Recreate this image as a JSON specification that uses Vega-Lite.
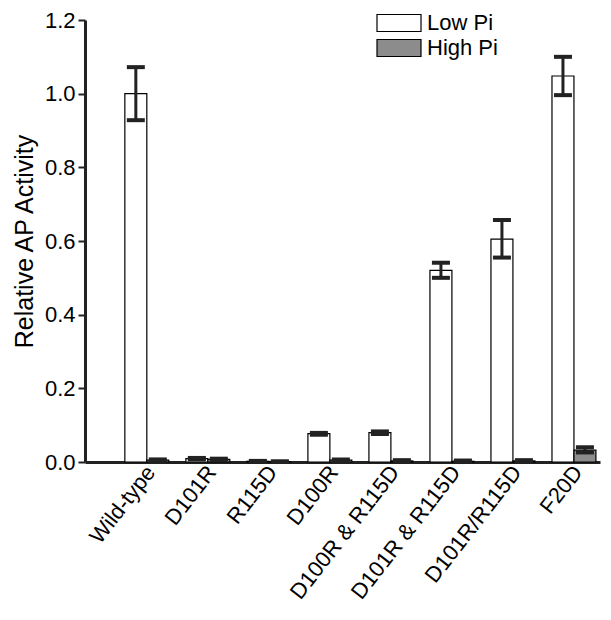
{
  "$schema": "https://vega.github.io/schema/vega-lite/v6.json",
  "width": 515,
  "height": 442,
  "autosize": "none",
  "padding": {"left": 85, "top": 20, "right": 11, "bottom": 158},
  "background": "white",
  "config": {"font": "Liberation Sans", "view": {"stroke": null}},
  "data": {"values": [
    {"group": "Wild-type", "series": "Low Pi", "value": 1.0, "lo": 0.928, "hi": 1.072},
    {"group": "Wild-type", "series": "High Pi", "value": 0.005, "lo": 0.003, "hi": 0.007},
    {"group": "D101R", "series": "Low Pi", "value": 0.009, "lo": 0.007, "hi": 0.011},
    {"group": "D101R", "series": "High Pi", "value": 0.007, "lo": 0.005, "hi": 0.009},
    {"group": "R115D", "series": "Low Pi", "value": 0.002, "lo": 0.001, "hi": 0.003},
    {"group": "R115D", "series": "High Pi", "value": 0.001, "lo": 0.0, "hi": 0.002},
    {"group": "D100R", "series": "Low Pi", "value": 0.077, "lo": 0.074, "hi": 0.079},
    {"group": "D100R", "series": "High Pi", "value": 0.005, "lo": 0.003, "hi": 0.007},
    {"group": "D100R & R115D", "series": "Low Pi", "value": 0.08, "lo": 0.076, "hi": 0.083},
    {"group": "D100R & R115D", "series": "High Pi", "value": 0.003, "lo": 0.001, "hi": 0.005},
    {"group": "D101R & R115D", "series": "Low Pi", "value": 0.52, "lo": 0.5, "hi": 0.541},
    {"group": "D101R & R115D", "series": "High Pi", "value": 0.002, "lo": 0.001, "hi": 0.004},
    {"group": "D101R/R115D", "series": "Low Pi", "value": 0.605, "lo": 0.555, "hi": 0.657},
    {"group": "D101R/R115D", "series": "High Pi", "value": 0.003, "lo": 0.001, "hi": 0.005},
    {"group": "F20D", "series": "Low Pi", "value": 1.048, "lo": 0.996, "hi": 1.1},
    {"group": "F20D", "series": "High Pi", "value": 0.032, "lo": 0.026, "hi": 0.04}
  ]},
  "encoding": {
    "x": {
      "field": "group", "type": "nominal", "sort": null,
      "scale": {"paddingInner": 0.28, "paddingOuter": 0.36, "align": 0.907},
      "axis": {"title": null, "labelAngle": -52, "labelFontSize": 22, "labelColor": "black", "ticks": false, "labelLimit": 0,
               "domainColor": "#222", "domainWidth": 3, "labelPadding": 6, "labelOffset": 4, "labelAlign": "right", "labelBaseline": "middle"}
    },
    "xOffset": {"field": "series", "type": "nominal", "sort": ["Low Pi", "High Pi"]}
  },
  "layer": [
    {
      "mark": {"type": "bar", "stroke": "black", "strokeWidth": 1.2},
      "encoding": {
        "y": {"field": "value", "type": "quantitative", "scale": {"domain": [0, 1.2]},
              "axis": {"values": [0, 0.2, 0.4, 0.6, 0.8, 1.0, 1.2], "format": ".1f", "grid": false,
                       "labelFontSize": 22, "labelColor": "black", "tickSize": 7, "tickWidth": 2, "tickColor": "#222",
                       "domainWidth": 3, "domainColor": "#222", "labelPadding": 3,
                       "title": "Relative AP Activity", "titleFontSize": 25, "titleFontWeight": "normal",
                       "titleColor": "black", "titlePadding": 7}},
        "fill": {"field": "series", "type": "nominal",
                 "scale": {"domain": ["Low Pi", "High Pi"], "range": ["white", "#8c8c8c"]},
                 "legend": {"orient": "none", "legendX": 303, "legendY": -8, "title": null,
                            "symbolType": "M-2.2,-0.85H2.2V0.85H-2.2Z", "symbolSize": 400,
                            "symbolStrokeColor": "black", "symbolStrokeWidth": 1.2,
                            "labelFontSize": 22, "labelColor": "black", "labelOffset": 17, "rowPadding": 3}}
      }
    },
    {
      "mark": {"type": "rule", "strokeWidth": 3, "color": "#222", "opacity": 1},
      "encoding": {"y": {"field": "lo", "type": "quantitative"}, "y2": {"field": "hi"}}
    },
    {
      "mark": {"type": "tick", "thickness": 4, "size": 18, "color": "#222", "opacity": 1},
      "encoding": {"y": {"field": "lo", "type": "quantitative"}}
    },
    {
      "mark": {"type": "tick", "thickness": 4, "size": 18, "color": "#222", "opacity": 1},
      "encoding": {"y": {"field": "hi", "type": "quantitative"}}
    }
  ]
}
